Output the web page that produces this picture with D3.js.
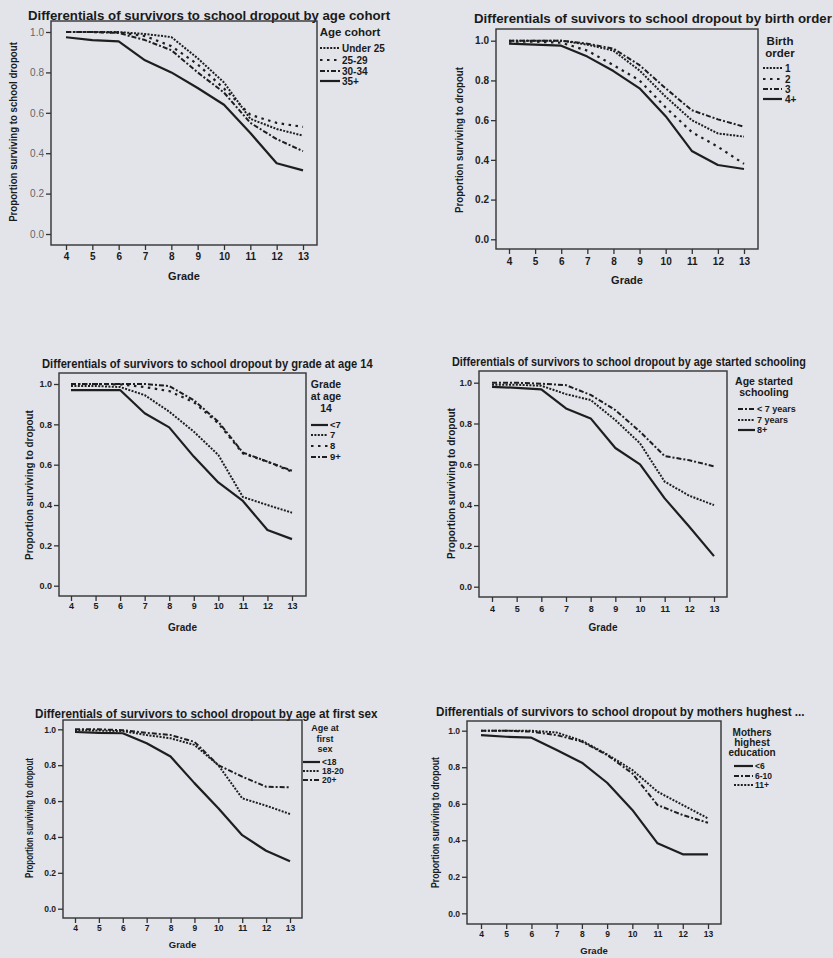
<!DOCTYPE html>
<html>
<head>
<meta charset="utf-8">
<script src="https://cdn.jsdelivr.net/npm/d3@7"></script>
<style>
  html, body { margin: 0; padding: 0; background: #e2e4ea; }
  svg text { fill: #1a1a1a; }
</style>
</head>
<body>
<div id="chart"></div>
<script>
// Survivor curves to school dropout, six small multiples

const grades = [4, 5, 6, 7, 8, 9, 10, 11, 12, 13];

// Panel 1: age cohort
const cohortLabels = ['Under 25', '25-29', '30-34', '35+'];
const cohortUnder25 = [1.0, 1.0, 1.0, 0.99, 0.975, 0.87, 0.75, 0.57, 0.52, 0.487];
const cohort25to29 = [1.0, 1.0, 0.998, 0.98, 0.93, 0.84, 0.72, 0.59, 0.55, 0.53];
const cohort30to34 = [1.0, 1.0, 0.995, 0.96, 0.91, 0.80, 0.70, 0.55, 0.47, 0.41];
const cohort35plus = [0.974, 0.96, 0.954, 0.86, 0.80, 0.723, 0.64, 0.50, 0.35, 0.315];

// Panel 2: birth order
const birthLabels = ['1', '2', '3', '4+'];
const birth1 = [1.0, 1.0, 1.0, 0.98, 0.95, 0.85, 0.718, 0.60, 0.533, 0.517];
const birth2 = [0.995, 0.995, 0.99, 0.95, 0.877, 0.80, 0.664, 0.54, 0.466, 0.38];
const birth3 = [1.0, 1.0, 1.0, 0.985, 0.96, 0.877, 0.76, 0.65, 0.604, 0.567];
const birth4plus = [0.985, 0.98, 0.975, 0.92, 0.847, 0.76, 0.62, 0.445, 0.374, 0.354];

// Panel 3: grade at age 14
const gradeAt14Labels = ['<7', '7', '8', '9+'];
const gradeBelow7 = [0.97, 0.97, 0.97, 0.855, 0.785, 0.64, 0.512, 0.42, 0.276, 0.231];
const grade7 = [0.99, 0.99, 0.985, 0.945, 0.863, 0.764, 0.648, 0.44, 0.40, 0.362];
const grade8 = [1.0, 1.0, 0.998, 0.985, 0.965, 0.91, 0.805, 0.656, 0.615, 0.565];
const grade9plus = [1.0, 1.0, 1.0, 1.0, 0.99, 0.92, 0.813, 0.66, 0.615, 0.57];

// Panel 4: age started schooling
const startLabels = ['< 7 years', '7 years', '8+'];
const startBelow7 = [1.0, 1.0, 0.995, 0.988, 0.94, 0.866, 0.76, 0.64, 0.62, 0.59];
const start7 = [0.99, 0.99, 0.985, 0.944, 0.915, 0.817, 0.703, 0.515, 0.446, 0.40];
const start8plus = [0.98, 0.975, 0.967, 0.874, 0.825, 0.68, 0.60, 0.433, 0.294, 0.15];

// Panel 5: age at first sex
const sexLabels = ['<18', '18-20', '20+'];
const sexBelow18 = [0.985, 0.98, 0.978, 0.922, 0.848, 0.70, 0.56, 0.41, 0.323, 0.264];
const sex18to20 = [0.995, 0.993, 0.99, 0.968, 0.95, 0.913, 0.80, 0.615, 0.574, 0.528];
const sex20plus = [1.0, 1.0, 0.995, 0.98, 0.968, 0.93, 0.80, 0.736, 0.68, 0.677];

// Panel 6: mothers highest education
const motherLabels = ['<6', '6-10', '11+'];
const motherBelow6 = [0.976, 0.967, 0.962, 0.894, 0.825, 0.715, 0.566, 0.383, 0.323, 0.323];
const mother6to10 = [1.0, 1.0, 0.995, 0.976, 0.94, 0.867, 0.766, 0.593, 0.538, 0.496];
const mother11plus = [1.0, 1.0, 1.0, 0.99, 0.945, 0.87, 0.785, 0.666, 0.593, 0.52];

const yTicks = [0, 0.2, 0.4, 0.6, 0.8, 1.0];

// line looks, keyed by name
const dashStyles = {
    solid: { dash: null, width: 2.2 },
    dot: { dash: '2,1.4', width: 2 },
    sparse: { dash: '2.5,4.5', width: 2.2 },
    dashdot: { dash: '5,2,2,2', width: 2 }
};

const panels = [
    {
        title: 'Differentials of survivors to school dropout by age cohort',
        yLabel: 'Proportion surviving to school dropout',
        legendTitle: ['Age cohort'],
        labels: cohortLabels,
        series: [cohortUnder25, cohort25to29, cohort30to34, cohort35plus],
        styles: ['dot', 'sparse', 'dashdot', 'solid'],
        box: { l: 51, r: 317, t: 21, b: 245 }, x4: 66, x13: 303, y1: 32, y0: 234,
        tickY: 257, gradeY: 276, yLabelX: 13, yLabelSpan: [42, 222],
        titleSpan: [28, 390], titleY: 15,
        legendX: 350, legendTitleY: [32], itemY: [48, 60, 71, 81], lineX: [320, 340], textX: 342,
        legendFont: 11.5, itemFont: 10, tickFont: 10, lightY: true
    },
    {
        title: 'Differentials of suvivors to school dropout by birth order',
        yLabel: 'Proportion surviving to dropout',
        legendTitle: ['Birth', 'order'],
        labels: birthLabels,
        series: [birth1, birth2, birth3, birth4plus],
        styles: ['dot', 'sparse', 'dashdot', 'solid'],
        box: { l: 496, r: 758, t: 29, b: 249 }, x4: 509, x13: 744, y1: 40.7, y0: 239.3,
        tickY: 262, gradeY: 280, yLabelX: 459, yLabelSpan: [67, 213],
        titleSpan: [474, 832], titleY: 18,
        legendX: 780, legendTitleY: [41, 53], itemY: [68, 79, 89, 99], lineX: [763, 782], textX: 785,
        legendFont: 11.5, itemFont: 10, tickFont: 10
    },
    {
        title: 'Differentials of survivors to school dropout by grade at age 14',
        yLabel: 'Proportion surviving to dropout',
        legendTitle: ['Grade', 'at age', '14'],
        labels: gradeAt14Labels,
        series: [gradeBelow7, grade7, grade8, grade9plus],
        styles: ['solid', 'dot', 'sparse', 'dashdot'],
        box: { l: 59, r: 306, t: 373, b: 596 }, x4: 71, x13: 292, y1: 384, y0: 585.7,
        tickY: 607, gradeY: 627, yLabelX: 29, yLabelSpan: [410, 560],
        titleSpan: [42, 373], titleY: 363,
        legendX: 326, legendTitleY: [384, 396, 408], itemY: [425, 435, 446, 457], lineX: [311, 328], textX: 330,
        legendFont: 10.5, itemFont: 9.5, tickFont: 9
    },
    {
        title: 'Differentials of survivors to school dropout by age started schooling',
        yLabel: 'Proportion surviving to dropout',
        legendTitle: ['Age started', 'schooling'],
        labels: startLabels,
        series: [startBelow7, start7, start8plus],
        styles: ['dashdot', 'dot', 'solid'],
        box: { l: 479, r: 727, t: 371, b: 597 }, x4: 492, x13: 714, y1: 382.7, y0: 586.7,
        tickY: 610, gradeY: 627, yLabelX: 451, yLabelSpan: [408, 559],
        titleSpan: [452, 806], titleY: 361,
        legendX: 764, legendTitleY: [381, 392], itemY: [409, 420, 430], lineX: [738, 755], textX: 757,
        legendFont: 10.5, itemFont: 9, tickFont: 9
    },
    {
        title: 'Differentials of survivors to school dropout by age at first sex',
        yLabel: 'Proportion surviving to dropout',
        legendTitle: ['Age at', 'first', 'sex'],
        labels: sexLabels,
        series: [sexBelow18, sex18to20, sex20plus],
        styles: ['solid', 'dot', 'dashdot'],
        box: { l: 63, r: 302, t: 720, b: 918 }, x4: 75, x13: 290, y1: 729.3, y0: 908.7,
        tickY: 929, gradeY: 945, yLabelX: 29, yLabelSpan: [758, 878],
        titleSpan: [35, 378], titleY: 713,
        legendX: 325, legendTitleY: [728, 738.5, 749], itemY: [762, 771, 780], lineX: [303, 320], textX: 322,
        legendFont: 9, itemFont: 8.5, tickFont: 8.5
    },
    {
        title: 'Differentials of survivors to school dropout by mothers hughest ...',
        yLabel: 'Proportion surviving to dropout',
        legendTitle: ['Mothers', 'highest', 'education'],
        labels: motherLabels,
        series: [motherBelow6, mother6to10, mother11plus],
        styles: ['solid', 'dashdot', 'dot'],
        box: { l: 467, r: 721, t: 721, b: 924 }, x4: 481, x13: 708, y1: 730.7, y0: 913.3,
        tickY: 935, gradeY: 951, yLabelX: 435, yLabelSpan: [757, 888],
        titleSpan: [436, 805], titleY: 711,
        legendX: 752, legendTitleY: [732, 742, 752], itemY: [766, 776, 785], lineX: [734, 753], textX: 755,
        legendFont: 10, itemFont: 8.5, tickFont: 8.5
    }
];

const WIDTH = 833, HEIGHT = 958;
const FONT = '"Liberation Sans", Arial, sans-serif';

const svg = d3.select('#chart')
    .append('svg')
    .attr('width', WIDTH)
    .attr('height', HEIGHT)
    .attr('viewBox', [0, 0, WIDTH, HEIGHT]);

svg.append('rect')
    .attr('width', WIDTH)
    .attr('height', HEIGHT)
    .attr('fill', '#e2e4ea');

panels.forEach(drawPanel);

// make a text span the wanted width: squeeze it sideways if too wide, grow it if too short
function fitText(sel, width, base, placement) {
    sel.style('font-size', base + 'px');
    const len = sel.node().getComputedTextLength();
    if (len > width) {
        sel.attr('transform', `${placement} scale(${(width / len).toFixed(3)},1)`);
    } else {
        sel.style('font-size', (base * width / len).toFixed(2) + 'px')
            .attr('transform', placement);
    }
}

function drawPanel(p) {
    const g = svg.append('g');

    const x = d3.scaleLinear().domain([4, 13]).range([p.x4, p.x13]);
    const y = d3.scaleLinear().domain([0, 1]).range([p.y0, p.y1]);

    // title
    const title = g.append('text')
        .attr('dy', '0.36em')
        .style('font-family', FONT)
        .style('font-weight', 'bold')
        .text(p.title);
    fitText(title, p.titleSpan[1] - p.titleSpan[0], 13, `translate(${p.titleSpan[0]},${p.titleY})`);

    // axes
    const yAxis = d3.axisLeft(y).tickValues(yTicks).tickFormat(d3.format('.1f')).tickSize(5).tickPadding(2);
    const yg = g.append('g')
        .attr('transform', `translate(${p.box.l},0)`)
        .call(yAxis);
    yg.select('.domain').remove();
    yg.selectAll('line').attr('stroke', '#333').attr('stroke-width', 1.3);
    yg.selectAll('text')
        .style('font', `${p.lightY ? 'normal' : 'bold'} ${p.tickFont}px ${FONT}`)
        .style('fill', p.lightY ? '#666' : '#222');

    const xAxis = d3.axisBottom(x).tickValues(grades).tickSize(5).tickPadding(3);
    const xg = g.append('g')
        .attr('transform', `translate(0,${p.box.b})`)
        .call(xAxis);
    xg.select('.domain').remove();
    xg.selectAll('line').attr('stroke', '#333').attr('stroke-width', 1.3);
    xg.selectAll('text')
        .attr('y', null)
        .attr('dy', null)
        .attr('transform', `translate(0,${p.tickY - p.box.b})`)
        .attr('dominant-baseline', 'middle')
        .style('font', `bold ${p.tickFont}px ${FONT}`);

    // frame
    g.append('rect')
        .attr('x', p.box.l)
        .attr('y', p.box.t)
        .attr('width', p.box.r - p.box.l)
        .attr('height', p.box.b - p.box.t)
        .attr('fill', 'none')
        .attr('stroke', '#333')
        .attr('stroke-width', 1.4);

    // axis titles
    g.append('text')
        .attr('x', (p.box.l + p.box.r) / 2)
        .attr('y', p.gradeY)
        .attr('dy', '0.36em')
        .attr('text-anchor', 'middle')
        .style('font', `bold ${p.tickFont + 1}px ${FONT}`)
        .text('Grade');

    const yMid = (p.yLabelSpan[0] + p.yLabelSpan[1]) / 2;
    const yl = g.append('text')
        .attr('text-anchor', 'middle')
        .attr('dy', '0.36em')
        .style('font-family', FONT)
        .style('font-weight', 'bold')
        .text(p.yLabel);
    fitText(yl, p.yLabelSpan[1] - p.yLabelSpan[0], 11, `translate(${p.yLabelX},${yMid}) rotate(-90)`);

    // curves
    const line = d3.line()
        .x((d, i) => x(grades[i]))
        .y(d => y(d));

    p.series.forEach((values, i) => {
        const st = dashStyles[p.styles[i]];
        g.append('path')
            .datum(values)
            .attr('d', line)
            .attr('fill', 'none')
            .attr('stroke', '#1e1e1e')
            .attr('stroke-width', st.width)
            .attr('stroke-dasharray', st.dash)
            .attr('stroke-linejoin', 'round');
    });

    // legend
    p.legendTitle.forEach((t, i) => {
        g.append('text')
            .attr('x', p.legendX)
            .attr('y', p.legendTitleY[i])
            .attr('dy', '0.36em')
            .attr('text-anchor', 'middle')
            .style('font', `bold ${p.legendFont}px ${FONT}`)
            .text(t);
    });

    p.labels.forEach((label, i) => {
        const st = dashStyles[p.styles[i]];
        g.append('line')
            .attr('x1', p.lineX[0])
            .attr('x2', p.lineX[1])
            .attr('y1', p.itemY[i])
            .attr('y2', p.itemY[i])
            .attr('stroke', '#1e1e1e')
            .attr('stroke-width', st.width)
            .attr('stroke-dasharray', st.dash);
        g.append('text')
            .attr('x', p.textX)
            .attr('y', p.itemY[i])
            .attr('dy', '0.36em')
            .style('font', `bold ${p.itemFont}px ${FONT}`)
            .text(label);
    });
}
</script>
</body>
</html>
